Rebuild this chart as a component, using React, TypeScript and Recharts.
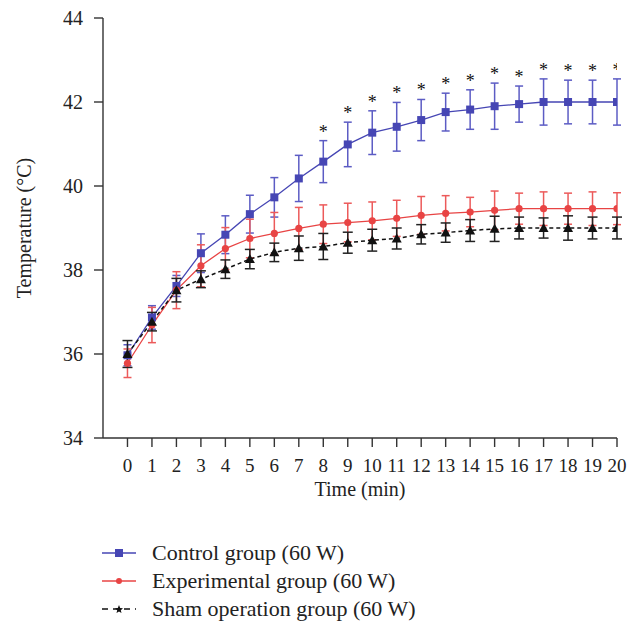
import React from "react";
import {
  ComposedChart,
  Line,
  XAxis,
  YAxis,
  ErrorBar,
} from "recharts";

const minutes = [0, 1, 2, 3, 4, 5, 6, 7, 8, 9, 10, 11, 12, 13, 14, 15, 16, 17, 18, 19, 20];
const controlMean = [35.97, 36.87, 37.62, 38.4, 38.84, 39.33, 39.73, 40.18, 40.58, 40.99, 41.27, 41.41, 41.57, 41.76, 41.82, 41.9, 41.95, 42.0, 42.0, 42.0, 42.0];
const controlSd = [0.25, 0.28, 0.25, 0.46, 0.45, 0.45, 0.47, 0.55, 0.5, 0.53, 0.52, 0.58, 0.49, 0.45, 0.47, 0.55, 0.43, 0.55, 0.52, 0.52, 0.55];
const expMean = [35.78, 36.69, 37.52, 38.1, 38.51, 38.75, 38.87, 38.99, 39.09, 39.13, 39.17, 39.23, 39.3, 39.35, 39.38, 39.42, 39.46, 39.46, 39.46, 39.46, 39.46];
const expSd = [0.34, 0.42, 0.44, 0.5, 0.5, 0.46, 0.5, 0.5, 0.46, 0.46, 0.45, 0.43, 0.45, 0.42, 0.35, 0.46, 0.37, 0.4, 0.37, 0.4, 0.38];
const shamMean = [36.0, 36.77, 37.52, 37.78, 38.02, 38.26, 38.42, 38.52, 38.56, 38.65, 38.71, 38.75, 38.85, 38.89, 38.94, 38.98, 39.0, 39.0, 39.0, 39.0, 39.0];
const shamSd = [0.32, 0.22, 0.28, 0.2, 0.22, 0.23, 0.22, 0.29, 0.31, 0.25, 0.26, 0.25, 0.23, 0.23, 0.26, 0.3, 0.26, 0.24, 0.29, 0.26, 0.26];
// * marks vs. experimental group
const significant = [false, false, false, false, false, false, false, false, true, true, true, true, true, true, true, true, true, true, true, true, true];
const yTicks = [34, 36, 38, 40, 42, 44];

const data = minutes.map((t, i) => ({
  t,
  control: controlMean[i],
  controlErr: controlSd[i],
  exp: expMean[i],
  expErr: expSd[i],
  sham: shamMean[i],
  shamErr: shamSd[i],
  star: significant[i] ? controlMean[i] + controlSd[i] : null,
}));

const FONT = "'Liberation Serif', 'DejaVu Serif', serif";
const BLUE = "#4646b4";
const RED = "#e84444";
const BLACK = "#111";

const SquareDot = (props: any) => {
  const { cx, cy } = props;
  if (cx == null || cy == null) return <g />;
  return <rect x={cx - 4} y={cy - 4} width={8} height={8} fill={BLUE} />;
};

const CircleDot = (props: any) => {
  const { cx, cy } = props;
  if (cx == null || cy == null) return <g />;
  return <circle cx={cx} cy={cy} r={3.6} fill={RED} />;
};

const TriangleDot = (props: any) => {
  const { cx, cy } = props;
  if (cx == null || cy == null) return <g />;
  return (
    <path
      d={`M${cx},${cy - 5} L${cx + 5},${cy + 4} L${cx - 5},${cy + 4} Z`}
      fill={BLACK}
    />
  );
};

const StarDot = (props: any) => {
  const { cx, cy, value } = props;
  if (value == null || cx == null || cy == null) return <g />;
  return (
    <text x={cx} y={cy - 3} textAnchor="middle" fontFamily={FONT} fontSize={18} fill="#111">
      *
    </text>
  );
};

const YLabel = (props: any) => {
  const { viewBox } = props;
  const cx = 24;
  const cy = viewBox.y + viewBox.height / 2;
  return (
    <text
      x={cx}
      y={cy}
      transform={`rotate(-90, ${cx}, ${cy})`}
      textAnchor="middle"
      dominantBaseline="central"
      fontFamily={FONT}
      fontSize={20}
      fill="#222"
    >
      Temperature (°C)
    </text>
  );
};

const XLabel = (props: any) => {
  const { viewBox } = props;
  return (
    <text
      x={360}
      y={viewBox.y + 51}
      textAnchor="middle"
      dominantBaseline="central"
      fontFamily={FONT}
      fontSize={20}
      fill="#222"
    >
      Time (min)
    </text>
  );
};

const legendItems = [
  { label: "Control group (60 W)", color: BLUE, marker: "square", dash: false },
  { label: "Experimental group (60 W)", color: RED, marker: "circle", dash: false },
  { label: "Sham operation group (60 W)", color: BLACK, marker: "star", dash: true },
];

const LegendIcon: React.FC<{ color: string; marker: string; dash: boolean }> = ({ color, marker, dash }) => (
  <svg width={34} height={12} style={{ display: "block" }}>
    <line
      x1={0}
      y1={6}
      x2={34}
      y2={6}
      stroke={color}
      strokeWidth={1.4}
      strokeDasharray={dash ? "6 5" : undefined}
    />
    {marker === "square" && <rect x={13} y={2} width={8} height={8} fill={color} />}
    {marker === "circle" && <circle cx={17} cy={6} r={3} fill={color} />}
    {marker === "star" && (
      <path d="M17,2 L18.2,5 L21,5.3 L18.8,7.2 L19.5,10 L17,8.4 L14.5,10 L15.2,7.2 L13,5.3 L15.8,5 Z" fill={color} />
    )}
  </svg>
);

export default function App() {
  return (
    <div style={{ position: "absolute", left: 0, top: 0, width: 642, height: 625, background: "#fff" }}>
      <ComposedChart
        width={642}
        height={625}
        data={data}
        margin={{ top: 18, right: 25, bottom: 127, left: 43 }}
      >
        <XAxis
          dataKey="t"
          type="number"
          domain={[-1, 20]}
          ticks={minutes}
          interval={0}
          allowDataOverflow
          height={60}
          tickSize={9}
          tickMargin={12}
          stroke="#333"
          strokeWidth={1.4}
          tick={{ fontFamily: FONT, fontSize: 19, fill: "#222" }}
          label={<XLabel />}
        />
        <YAxis
          type="number"
          domain={[34, 44]}
          ticks={yTicks}
          width={60}
          tickSize={9}
          tickMargin={11}
          stroke="#333"
          strokeWidth={1.4}
          tick={{ fontFamily: FONT, fontSize: 20, fill: "#222" }}
          label={<YLabel />}
        />
        <Line
          dataKey="control"
          stroke={BLUE}
          strokeWidth={1.3}
          dot={<SquareDot />}
          activeDot={false}
          isAnimationActive={false}
        >
          <ErrorBar dataKey="controlErr" width={4} stroke="#5c5cc4" strokeWidth={1.5} direction="y" />
        </Line>
        <Line
          dataKey="exp"
          stroke={RED}
          strokeWidth={1.3}
          dot={<CircleDot />}
          activeDot={false}
          isAnimationActive={false}
        >
          <ErrorBar dataKey="expErr" width={4} stroke="#ec5a5a" strokeWidth={1.5} direction="y" />
        </Line>
        <Line
          dataKey="sham"
          stroke={BLACK}
          strokeWidth={1.5}
          strokeDasharray="4 3"
          dot={<TriangleDot />}
          activeDot={false}
          isAnimationActive={false}
        >
          <ErrorBar dataKey="shamErr" width={5} stroke="#222" strokeWidth={1.5} direction="y" />
        </Line>
        <Line
          dataKey="star"
          stroke="none"
          dot={<StarDot />}
          activeDot={false}
          legendType="none"
          isAnimationActive={false}
        />
      </ComposedChart>
      <div style={{ position: "absolute", left: 102, top: 539, fontFamily: FONT, fontSize: 22, color: "#222" }}>
        {legendItems.map((it) => (
          <div key={it.label} style={{ display: "flex", alignItems: "center", height: 28 }}>
            <LegendIcon color={it.color} marker={it.marker} dash={it.dash} />
            <span style={{ marginLeft: 16, lineHeight: "28px" }}>{it.label}</span>
          </div>
        ))}
      </div>
    </div>
  );
}
